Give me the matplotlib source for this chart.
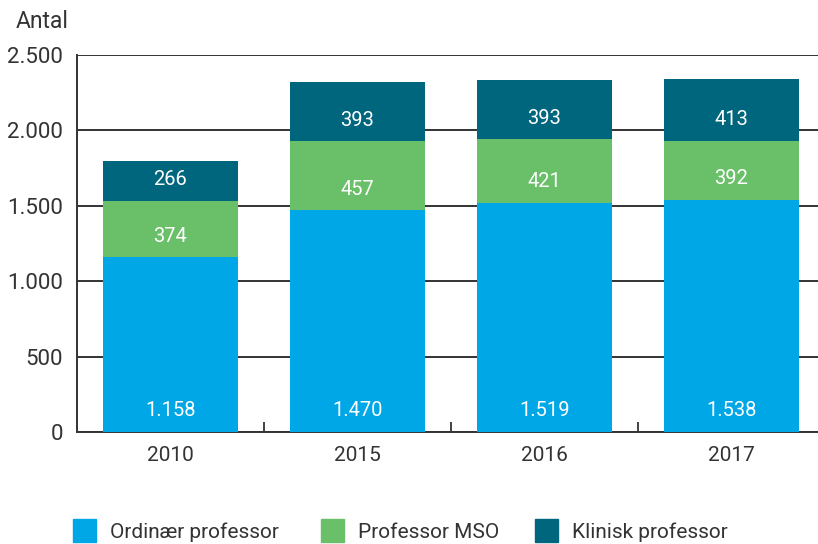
import matplotlib.pyplot as plt
from matplotlib.patches import Rectangle

plt.rcParams['font.family'] = ['Roboto', 'DejaVu Sans']

# data
years = ["2010", "2015", "2016", "2017"]
ordinaer = [1158, 1470, 1519, 1538]
mso = [374, 457, 421, 392]
klinisk = [266, 393, 393, 413]
series_names = ["Ordinær professor", "Professor MSO", "Klinisk professor"]
yticks = [0, 500, 1000, 1500, 2000, 2500]
ytick_labels = ["0", "500", "1.000", "1.500", "2.000", "2.500"]

c_blue = "#00A7E7"
c_green = "#6ABF69"
c_teal = "#00667D"
txt = "#333333"

def fmt(v):
    return f"{v:,}".replace(",", ".")

W, H = 818, 544
fig = plt.figure(figsize=(W/100, H/100), dpi=100)
ax = fig.add_axes([77/W, 112/H, 1 - 77/W, 377/H])

x = range(len(years))
w = 0.72
bottom2 = [a + b for a, b in zip(ordinaer, mso)]
ax.bar(x, ordinaer, w, color=c_blue, zorder=3)
ax.bar(x, mso, w, bottom=ordinaer, color=c_green, zorder=3)
ax.bar(x, klinisk, w, bottom=bottom2, color=c_teal, zorder=3)

# labels sit a fixed distance above the bottom of each segment
off = 140
for i in x:
    ax.text(i, off, fmt(ordinaer[i]), ha="center", va="center", color="white", fontsize=14.5)
    ax.text(i, ordinaer[i] + off, fmt(mso[i]), ha="center", va="center", color="white", fontsize=14.5)
    ax.text(i, bottom2[i] + off, fmt(klinisk[i]), ha="center", va="center", color="white", fontsize=14.5)

ax.set_ylim(0, 2500)
ax.set_xlim(-0.5, 3.5 - 7/187)
ax.set_yticks(yticks)
ax.set_yticklabels(ytick_labels, fontsize=16, color=txt)
ax.set_xticks(list(x))
ax.set_xticklabels(years, fontsize=15, color=txt)
ax.set_xticks([0.5, 1.5, 2.5], minor=True)
ax.tick_params(axis="x", which="major", length=0, pad=10)
ax.tick_params(axis="x", which="minor", direction="in", length=7, width=1.3, color=txt)
ax.tick_params(axis="y", length=0, pad=10)
ax.yaxis.grid(True, color=txt, linewidth=1.4, zorder=0)
for s in ["top", "right"]:
    ax.spines[s].set_visible(False)
for s in ["left", "bottom"]:
    ax.spines[s].set_color(txt)
    ax.spines[s].set_linewidth(1.4)

fig.text(16/W, 1 - 22/H, "Antal", fontsize=16.5, color=txt, va="center", ha="left")

# legend along the bottom edge
leg_x = [73, 321, 535]
for lx, c, name in zip(leg_x, [c_blue, c_green, c_teal], series_names):
    fig.add_artist(Rectangle((lx/W, 2/H), 23/W, 23/H, color=c, transform=fig.transFigure))
    fig.text((lx + 37)/W, 6/H, name, fontsize=15, color=txt, va="baseline", ha="left")

fig.savefig("out.png", dpi=100)
